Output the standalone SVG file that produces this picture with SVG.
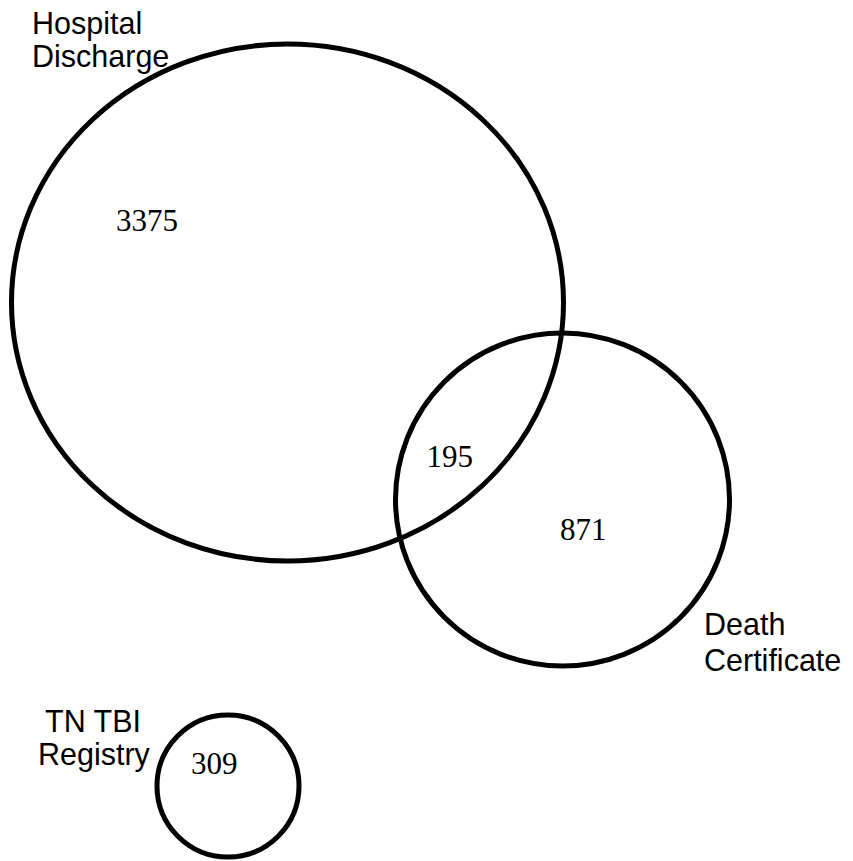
<svg xmlns="http://www.w3.org/2000/svg" width="853" height="861" viewBox="0 0 853 861">
<style>
.set{fill:none;stroke:#000;stroke-width:5}
.lbl{font-family:"Liberation Sans",Arial,sans-serif;font-size:30.5px;fill:#000}
.num{font-family:"Liberation Serif","Times New Roman",serif;font-size:31px;fill:#000}
</style>
<rect width="853" height="861" fill="#fff"/>
<g id="hospital-discharge">
<ellipse class="set" cx="287.5" cy="302.5" rx="276" ry="258.5"/>
<text class="lbl" x="32" y="34">Hospital</text>
<text class="lbl" x="32" y="66.5">Discharge</text>
<text class="num" x="116" y="230.5">3375</text>
</g>
<g id="death-certificate">
<ellipse class="set" cx="562.5" cy="499.5" rx="167" ry="166.5"/>
<text class="lbl" x="704" y="635">Death</text>
<text class="lbl" x="704" y="670.5">Certificate</text>
<text class="num" x="560" y="539.5">871</text>
</g>
<g id="overlap-hd-dc">
<text class="num" x="426.5" y="466.5">195</text>
</g>
<g id="tn-tbi-registry">
<circle class="set" cx="228" cy="786" r="71"/>
<text class="lbl" x="45" y="731.5">TN TBI</text>
<text class="lbl" x="38" y="765">Registry</text>
<text class="num" x="191" y="774">309</text>
</g>
<g id="connectors"></g>
</svg>
